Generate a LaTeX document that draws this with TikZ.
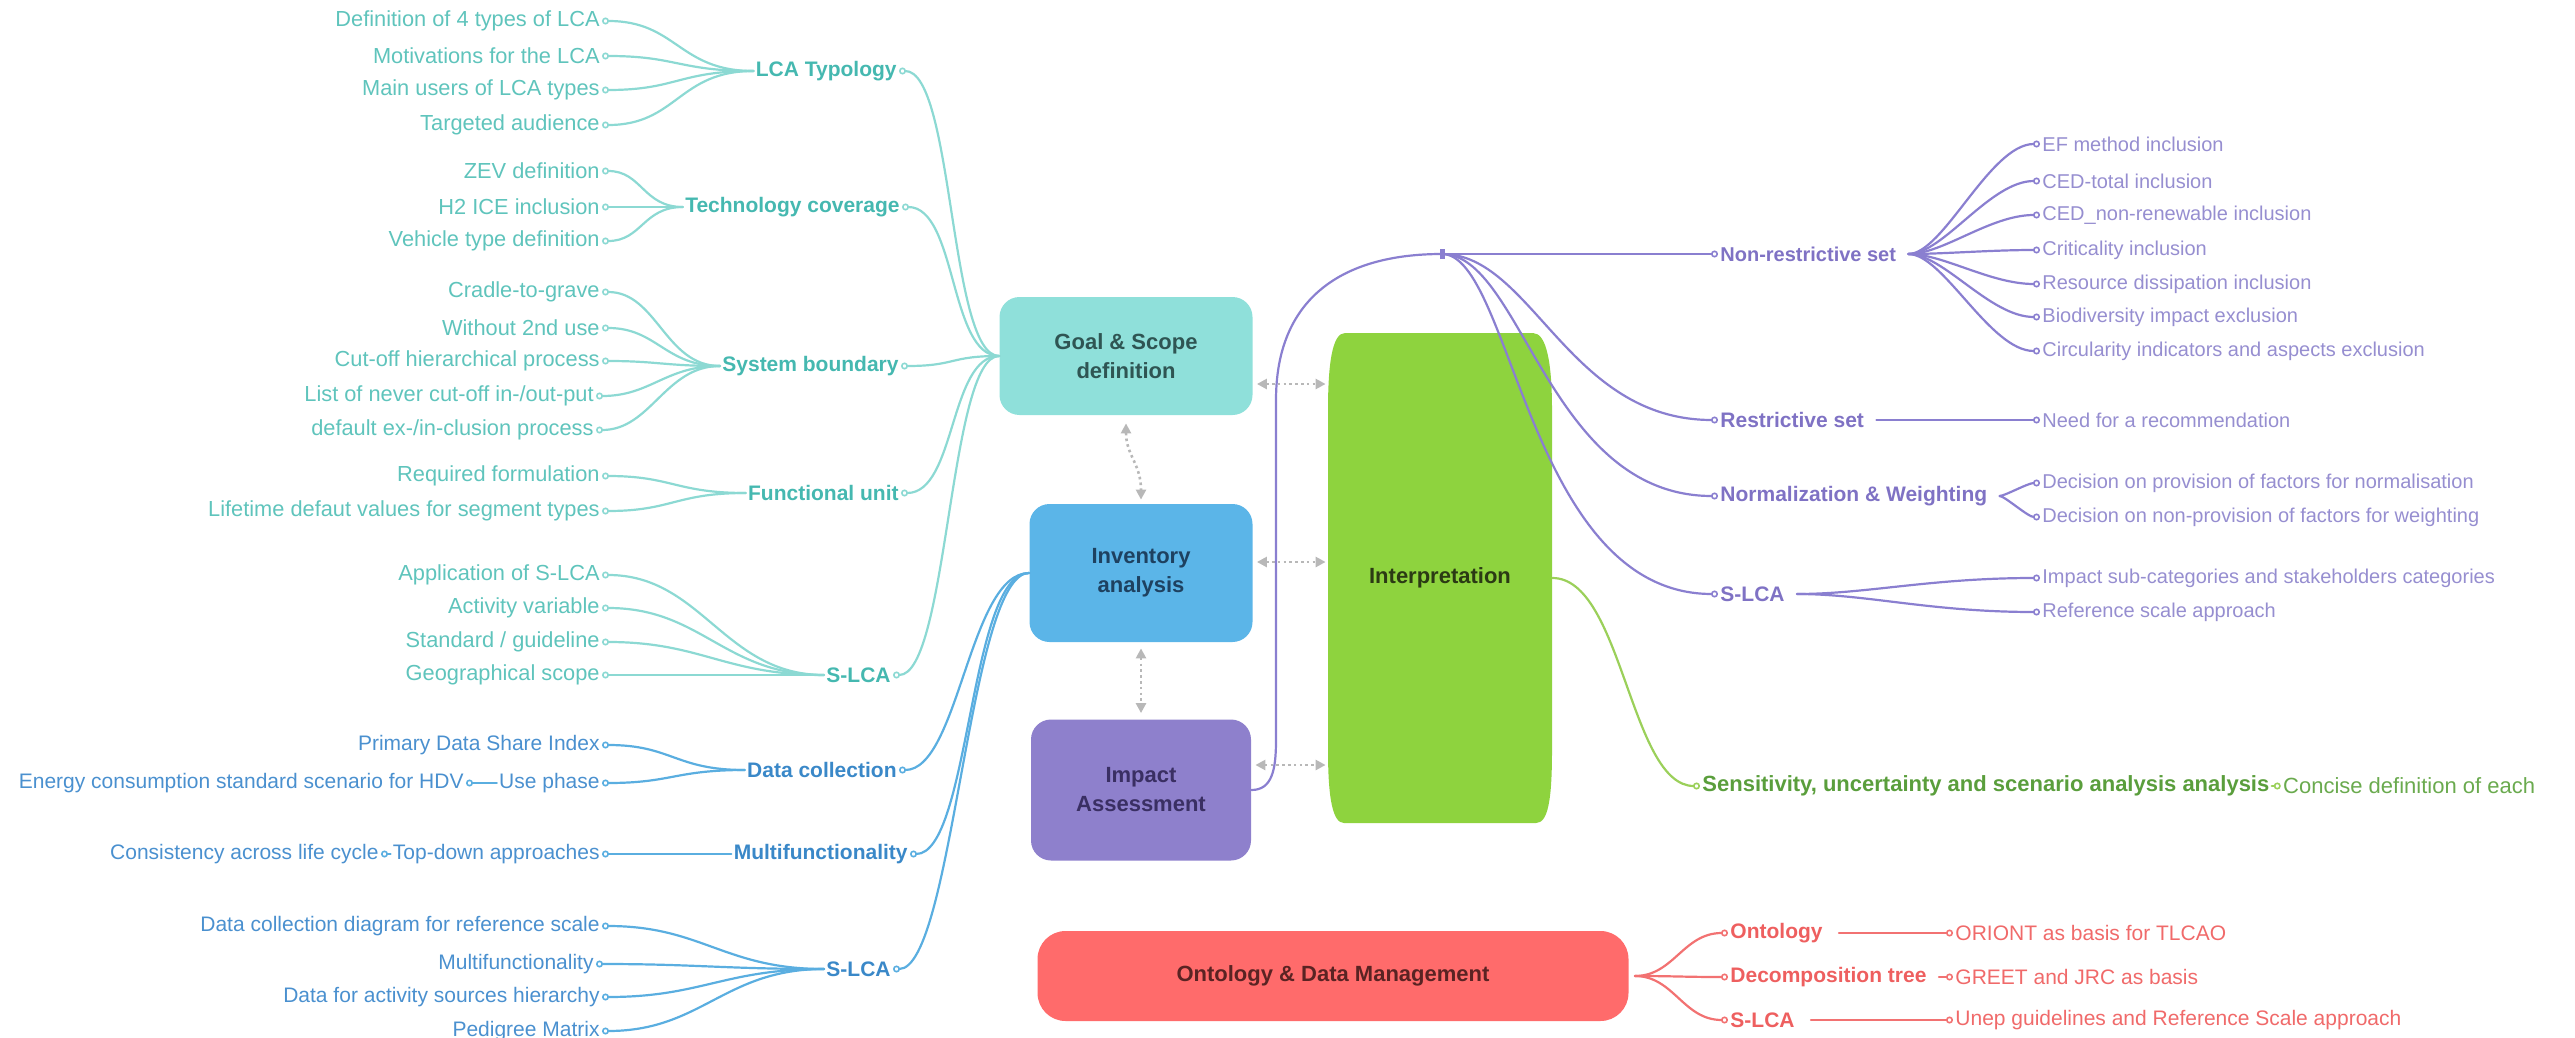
\documentclass[tikz,border=0pt]{standalone}
\usepackage{fontspec}
\setmainfont{Liberation Sans}
\usetikzlibrary{arrows.meta}
\definecolor{tealbox}{HTML}{8FE0DA}
\definecolor{tealline}{HTML}{8CD9D3}
\definecolor{tealtext}{HTML}{5FC4BC}
\definecolor{tealbold}{HTML}{45B8B0}
\definecolor{bluebox}{HTML}{5BB5E8}
\definecolor{blueline}{HTML}{5AAEE0}
\definecolor{bluetext}{HTML}{4A90CF}
\definecolor{bluebold}{HTML}{3A88C8}
\definecolor{purplebox}{HTML}{8E80CC}
\definecolor{purpleline}{HTML}{8A7FD0}
\definecolor{purpletext}{HTML}{968ED0}
\definecolor{purplebold}{HTML}{7F72C4}
\definecolor{greenbox}{HTML}{8ED33E}
\definecolor{greenline}{HTML}{9BD05A}
\definecolor{greenbold}{HTML}{5A9E3C}
\definecolor{greentext}{HTML}{6AAA4E}
\definecolor{redbox}{HTML}{FF6B6B}
\definecolor{redline}{HTML}{F27272}
\definecolor{redtext}{HTML}{F06A6A}
\definecolor{redbold}{HTML}{EE5F5F}
\definecolor{arrowgray}{HTML}{B8B8B8}
\definecolor{goaltxt}{HTML}{2F5553}
\definecolor{invtxt}{HTML}{1E4160}
\definecolor{imptxt}{HTML}{3A2F63}
\definecolor{inttxt}{HTML}{2B3A14}
\definecolor{ontotxt}{HTML}{5A2323}
\begin{document}
\begin{tikzpicture}[x=0.5pt,y=-0.5pt,
  every node/.style={font=\fontsize{10.5}{12.6}\selectfont, inner sep=1pt},
  grp/.style={font=\fontsize{10.5}{12.6}\selectfont\bfseries},
  litem/.style={anchor=east},
  ritem/.style={anchor=west},
  box/.style={rounded corners=10pt, align=center, font=\fontsize{11}{14.5}\selectfont\bfseries, inner sep=0pt},
  lnk/.style={line width=1.1pt, line cap=round},
  linkS/.style={lnk, arrows={Circle[open,length=3.5pt,width=3.5pt,line width=0.8pt]-}},
  linkE/.style={lnk, arrows={-Circle[open,length=3.5pt,width=3.5pt,line width=0.8pt]}},
  dotarrow/.style={arrowgray, line width=1.3pt, dash pattern=on 1.3pt off 1.6pt, arrows={Triangle[length=5pt,width=5pt]-Triangle[length=5pt,width=5pt]}},
]
\useasboundingbox (0,0) rectangle (2575,1038);

% ---------- central boxes ----------
\node[box, fill=tealbox, text=goaltxt, minimum width=126.5pt, minimum height=59pt] (goal) at (1126,356) {Goal \& Scope\\definition};
\node[box, fill=bluebox, text=invtxt, minimum width=111.5pt, minimum height=69pt] (inv) at (1141,573) {Inventory\\analysis};
\node[box, fill=purplebox, text=imptxt, minimum width=110pt, minimum height=70.5pt] (imp) at (1141,790) {Impact\\Assessment};
% barrel-shaped Interpretation box
\fill[greenbox] (1345,333) -- (1533,333) .. controls (1547,333) and (1552,365) .. (1552,410)
  -- (1552,750) .. controls (1552,800) and (1548,823) .. (1536,823) -- (1344,823)
  .. controls (1333,823) and (1328,800) .. (1328,750) -- (1328,410)
  .. controls (1328,365) and (1332,333) .. (1345,333) -- cycle;
\node[box, text=inttxt, minimum width=112pt, minimum height=245pt] (interp) at (1440,578) {Interpretation};
\node[box, rounded corners=14pt, fill=redbox, text=ontotxt, minimum width=295.5pt, minimum height=45pt] (onto) at (1333,976) {Ontology \& Data Management};

% dotted arrows
\coordinate (g1) at ([yshift=-14pt]goal.east);
\coordinate (i1) at ([yshift=5.5pt]inv.east);
\coordinate (m1) at ([yshift=12.5pt]imp.east);
\draw[dotarrow, shorten <=2pt, shorten >=1pt] (g1) -- (g1 -| interp.west);
\draw[dotarrow, shorten <=2pt, shorten >=1pt] (i1) -- (i1 -| interp.west);
\draw[dotarrow, shorten <=2pt, shorten >=1pt] (m1) -- (m1 -| interp.west);
\draw[dotarrow, shorten <=4pt, shorten >=2pt] (goal.south) .. controls +(0,40) and +(0,-40) .. (inv.north);
\draw[dotarrow, shorten <=3pt, shorten >=3pt] (inv.south) -- (imp.north);

% ---------- teal (Goal & Scope) ----------
\begin{scope}[every node/.append style={text=tealtext, font=\fontsize{10.9}{13}\selectfont}]
\node[litem] (a1) at (602,21) {Definition of 4 types of LCA};
\node[litem] (a2) at (602,56) {Motivations for the LCA};
\node[litem] (a3) at (602,90) {Main users of LCA types};
\node[litem] (a4) at (602,125) {Targeted audience};
\node[litem] (b1) at (602,171) {ZEV definition};
\node[litem] (b2) at (602,207) {H2 ICE inclusion};
\node[litem] (b3) at (602,241) {Vehicle type definition};
\node[litem] (c1) at (602,292) {Cradle-to-grave};
\node[litem] (c2) at (602,328) {Without 2nd use};
\node[litem] (c3) at (602,361) {Cut-off hierarchical process};
\node[litem] (c4) at (596,396) {List of never cut-off in-/out-put};
\node[litem] (c5) at (596,430) {default ex-/in-clusion process};
\node[litem] (d1) at (602,476) {Required formulation};
\node[litem] (d2) at (602,511) {Lifetime defaut values for segment types};
\node[litem] (e1) at (602,575) {Application of S-LCA};
\node[litem] (e2) at (602,608) {Activity variable};
\node[litem] (e3) at (602,642) {Standard / guideline};
\node[litem] (e4) at (602,675) {Geographical scope};
\end{scope}
\begin{scope}[every node/.append style={text=tealbold}]
\node[grp, litem] (ga) at (899,71) {LCA Typology};
\node[grp, litem] (gb) at (902,207) {Technology coverage};
\node[grp, litem] (gc) at (901,366) {System boundary};
\node[grp, litem] (gd) at (901,493) {Functional unit};
\node[grp, litem] (ge) at (893,675) {S-LCA};
\end{scope}
\begin{scope}[tealline]
\foreach \t in {a1,a2,a3,a4} \draw[linkS] (\t.east) .. controls +(75,0) and +(-75,0) .. (ga.west);
\foreach \t in {b1,b2,b3} \draw[linkS] (\t.east) .. controls +(40,0) and +(-40,0) .. (gb.west);
\foreach \t in {c1,c2,c3,c4,c5} \draw[linkS] (\t.east) .. controls +(55,0) and +(-55,0) .. (gc.west);
\foreach \t in {d1,d2} \draw[linkS] (\t.east) .. controls +(70,0) and +(-70,0) .. (gd.west);
\foreach \t in {e1,e2,e3,e4} \draw[linkS] (\t.east) .. controls +(100,0) and +(-100,0) .. (ge.west);
\foreach \g in {ga,gb,gc,gd,ge} \draw[linkS] (\g.east) .. controls +(55,0) and +(-50,0) .. (goal.west);
\end{scope}

% ---------- blue (Inventory analysis) ----------
\begin{scope}[every node/.append style={text=bluetext}]
\node[litem] (f1) at (602,745) {Primary Data Share Index};
\node[litem] (f2) at (602,783) {Use phase};
\node[litem] (f3) at (466,783) {Energy consumption standard scenario for HDV};
\node[litem] (h1) at (602,854) {Top-down approaches};
\node[litem] (h2) at (381,854) {Consistency across life cycle};
\node[litem] (k1) at (602,926) {Data collection diagram for reference scale};
\node[litem] (k2) at (596,964) {Multifunctionality};
\node[litem] (k3) at (602,997) {Data for activity sources hierarchy};
\node[litem] (k4) at (602,1031) {Pedigree Matrix};
\end{scope}
\begin{scope}[every node/.append style={text=bluebold}]
\node[grp, litem] (gf) at (899,770) {Data collection};
\node[grp, litem] (gg) at (910,854) {Multifunctionality};
\node[grp, litem] (gh) at (893,969) {S-LCA};
\end{scope}
\begin{scope}[blueline]
\foreach \t in {f1,f2} \draw[linkS] (\t.east) .. controls +(70,0) and +(-70,0) .. (gf.west);
\draw[linkS] (f3.east) -- (f2.west);
\draw[linkS] (h1.east) -- (gg.west);
\draw[linkS] (h2.east) -- (h1.west);
\foreach \t in {k1,k2,k3,k4} \draw[linkS] (\t.east) .. controls +(100,0) and +(-100,0) .. (gh.west);
\foreach \g in {gf,gg,gh} \draw[linkS] (\g.east) .. controls +(60,0) and +(-60,0) .. (inv.west);
\end{scope}

% ---------- purple (Impact assessment) ----------
\coordinate (hub) at (1442,254);
\begin{scope}[every node/.append style={text=purpletext, font=\fontsize{10}{12}\selectfont}]
\node[ritem] (n1) at (2040,144) {EF method inclusion};
\node[ritem] (n2) at (2040,181) {CED-total inclusion};
\node[ritem] (n3) at (2040,215) {CED\_non-renewable inclusion};
\node[ritem] (n4) at (2040,250) {Criticality inclusion};
\node[ritem] (n5) at (2040,284) {Resource dissipation inclusion};
\node[ritem] (n6) at (2040,317) {Biodiversity impact exclusion};
\node[ritem] (n7) at (2040,351) {Circularity indicators and aspects exclusion};
\node[ritem] (r1) at (2040,420) {Need for a recommendation};
\node[ritem] (w1) at (2040,483) {Decision on provision of factors for normalisation};
\node[ritem] (w2) at (2040,517) {Decision on non-provision of factors for weighting};
\node[ritem] (s1) at (2040,578) {Impact sub-categories and stakeholders categories};
\node[ritem] (s2) at (2040,612) {Reference scale approach};
\end{scope}
\begin{scope}[every node/.append style={text=purplebold}]
\node[grp, ritem, font=\fontsize{10}{12}\selectfont\bfseries] (nr) at (1718,254) {Non-restrictive set};
\node[grp, ritem] (rs) at (1718,420) {Restrictive set};
\node[grp, ritem] (nw) at (1718,496) {Normalization \& Weighting};
\node[grp, ritem] (sp) at (1718,594) {S-LCA};
\end{scope}
\begin{scope}[purpleline]
\draw[lnk] (imp.east) .. controls (1272,790) and (1276,770) .. (1276,740) -- (1276,400) .. controls (1276,300) and (1340,254) .. (hub);
\draw[line width=2.5pt] ([yshift=-2.5pt]hub) -- ([yshift=2.5pt]hub);
\draw[linkE] (hub) -- (nr.west);
\draw[linkE] (hub) .. controls +(90,0) and +(-150,0) .. (rs.west);
\draw[linkE] (hub) .. controls +(80,0) and +(-170,0) .. (nw.west);
\draw[linkE] (hub) .. controls +(70,0) and +(-190,0) .. (sp.west);
\foreach \t in {n1,n2,n3,n4,n5,n6,n7} \draw[linkE, shorten <=5pt] (nr.east) .. controls +(45,0) and +(-50,0) .. (\t.west);
\draw[linkE, shorten <=5pt] (rs.east) -- (r1.west);
\foreach \t in {w1,w2} \draw[linkE, shorten <=5pt] (nw.east) .. controls +(15,0) and +(-12,0) .. (\t.west);
\foreach \t in {s1,s2} \draw[linkE, shorten <=5pt] (sp.east) .. controls +(80,0) and +(-110,0) .. (\t.west);
\end{scope}

% ---------- green (Interpretation) ----------
\node[ritem, text=greenbold, font=\fontsize{11}{13}\selectfont\bfseries] (sens) at (1700,786) {Sensitivity, uncertainty and scenario analysis analysis};
\node[ritem, text=greentext, font=\fontsize{11}{13}\selectfont] (conc) at ([xshift=4.5pt]sens.east) {Concise definition of each};
\draw[linkE, greenline] (interp.east) .. controls +(70,0) and +(-70,0) .. (sens.west);
\draw[linkE, greenline] (sens.east) -- (conc.west);

% ---------- red (Ontology & Data Management) ----------
\begin{scope}[every node/.append style={text=redbold}]
\node[grp, ritem] (o1) at (1728,933) {Ontology};
\node[grp, ritem] (o2) at (1728,977) {Decomposition tree};
\node[grp, ritem] (o3) at (1728,1020) {S-LCA};
\end{scope}
\begin{scope}[every node/.append style={text=redtext}]
\node[ritem] (p1) at (1953,933) {ORIONT as basis for TLCAO};
\node[ritem] (p2) at (1953,977) {GREET and JRC as basis};
\node[ritem] (p3) at (1953,1020) {Unep guidelines and Reference Scale approach};
\end{scope}
\begin{scope}[redline]
\foreach \t in {o1,o2,o3} \draw[linkE, shorten <=3pt] (onto.east) .. controls +(45,0) and +(-45,0) .. (\t.west);
\draw[linkE, shorten <=7pt] (o1.east) -- (p1.west);
\draw[linkE, shorten <=5pt] (o2.east) -- (p2.west);
\draw[linkE, shorten <=7pt] (o3.east) -- (p3.west);
\end{scope}
\end{tikzpicture}
\end{document}
